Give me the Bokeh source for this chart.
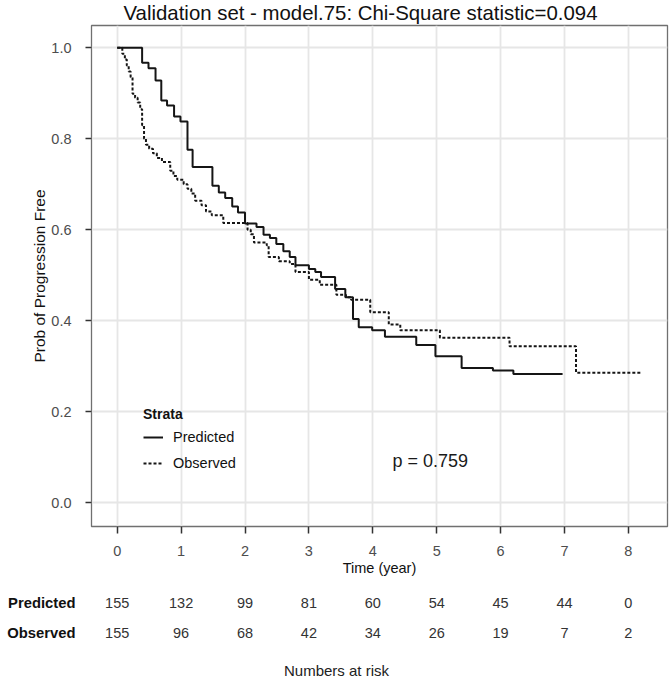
from bokeh.plotting import figure
from bokeh.layouts import column
from bokeh.models import (ColumnDataSource, Label, Legend, LegendItem,
                          FixedTicker, PrintfTickFormatter, Range1d)
from bokeh.core.properties import value
from bokeh.embed import file_html
from bokeh.resources import INLINE

FONT = "Liberation Sans"

# ---------------- data ----------------
title_text = "Validation set - model.75: Chi-Square statistic=0.094"
x_label = "Time (year)"
y_label = "Prob of Progression Free"
p_text = "p = 0.759"

pred_time = [0, 0.39, 0.49, 0.60, 0.69, 0.78, 0.89, 0.99, 1.10, 1.18, 1.49, 1.59, 1.69,
             1.80, 1.89, 2.00, 2.18, 2.29, 2.39, 2.49, 2.60, 2.70, 2.79, 3.00, 3.10,
             3.19, 3.41, 3.57, 3.69, 3.78, 3.99, 4.19, 4.68, 4.98, 5.39, 5.88, 6.20, 6.97]
pred_surv = [1.0, 0.967, 0.955, 0.928, 0.884, 0.873, 0.849, 0.838, 0.776, 0.738, 0.697,
             0.682, 0.670, 0.651, 0.638, 0.614, 0.606, 0.589, 0.582, 0.569, 0.553, 0.540,
             0.522, 0.514, 0.507, 0.496, 0.470, 0.452, 0.404, 0.386, 0.379, 0.365, 0.347,
             0.322, 0.296, 0.291, 0.283, 0.283]

obs_time = [0, 0.08, 0.12, 0.15, 0.18, 0.21, 0.24, 0.28, 0.32, 0.36, 0.39, 0.42, 0.45,
            0.50, 0.56, 0.62, 0.70, 0.83, 0.88, 0.94, 1.04, 1.10, 1.16, 1.22, 1.32, 1.39,
            1.48, 1.66, 2.04, 2.09, 2.14, 2.34, 2.37, 2.53, 2.70, 2.79, 3.00, 3.17, 3.43,
            3.58, 3.66, 3.96, 4.25, 4.43, 5.05, 6.14, 7.18, 8.20]
obs_surv = [1.0, 0.987, 0.974, 0.961, 0.948, 0.935, 0.899, 0.890, 0.880, 0.865, 0.830,
            0.800, 0.787, 0.778, 0.768, 0.758, 0.749, 0.730, 0.718, 0.710, 0.700, 0.690,
            0.680, 0.664, 0.654, 0.640, 0.632, 0.615, 0.600, 0.590, 0.572, 0.566, 0.540,
            0.531, 0.525, 0.507, 0.490, 0.479, 0.457, 0.452, 0.446, 0.419, 0.392, 0.379,
            0.363, 0.344, 0.286, 0.286]

strata = ["Predicted", "Observed"]
risk_years = [0, 1, 2, 3, 4, 5, 6, 7, 8]
risk_pred = [155, 132, 99, 81, 60, 54, 45, 44, 0]
risk_obs = [155, 96, 68, 42, 34, 26, 19, 7, 2]
risk_title = "Numbers at risk"
y_ticks = [0.0, 0.2, 0.4, 0.6, 0.8, 1.0]

# ---------------- layout constants (pixels) ----------------
W = 672
H_TITLE, H_MAIN, H_TABLE = 24, 556, 104
FRAME_L, FRAME_R = 91, 667
PX_PER_YEAR = 63.9
X0_PX = 116.7          # page x of time 0


def px_to_year(px):
    return (px - X0_PX) / PX_PER_YEAR


def shared_xrange():
    return Range1d(px_to_year(FRAME_L), px_to_year(FRAME_R))


# ---------------- title strip ----------------
pt = figure(width=W, height=H_TITLE, output_backend="svg", toolbar_location=None,
            x_range=shared_xrange(), y_range=Range1d(H_TITLE, 0),
            x_axis_location=None, y_axis_location=None,
            min_border_left=FRAME_L, min_border_right=W - FRAME_R,
            min_border_top=0, min_border_bottom=0)
pt.outline_line_color = None
pt.grid.visible = False
pt.text(x=[px_to_year(360)], y=[12], text=[title_text], text_align="center",
        text_baseline="middle", text_font=value(FONT), text_font_size="20.4px",
        text_color="#111111")

# ---------------- main plot ----------------
p = figure(width=W, height=H_MAIN, output_backend="svg", toolbar_location=None,
           x_range=shared_xrange(), y_range=Range1d(-0.0521, 1.049),
           min_border_left=FRAME_L, min_border_right=W - FRAME_R, min_border_top=1,
           min_border_bottom=54)
p.background_fill_color = "white"
p.border_fill_color = "white"
p.outline_line_color = "#707070"
p.outline_line_width = 1.3

p.xgrid.grid_line_color = "#e6e6e6"
p.ygrid.grid_line_color = "#e6e6e6"
p.xgrid.grid_line_width = 1.8
p.ygrid.grid_line_width = 1.8

r_pred = p.step(pred_time, pred_surv, mode="after", line_color="#151515", line_width=2)
r_obs = p.step(obs_time, obs_surv, mode="after", line_color="#151515", line_width=2,
               line_dash="3 2")

p.xaxis.ticker = FixedTicker(ticks=risk_years)
p.yaxis.ticker = FixedTicker(ticks=y_ticks)
p.yaxis.formatter = PrintfTickFormatter(format="%.1f")
for ax in (p.xaxis[0], p.yaxis[0]):
    ax.axis_line_color = None
    ax.major_tick_line_color = "#333333"
    ax.major_tick_line_width = 1.5
    ax.major_tick_in = 0
    ax.minor_tick_line_color = None
    ax.major_label_text_font = FONT
    ax.major_label_text_font_size = "14.5px"
    ax.major_label_text_color = "#4d4d4d"
    ax.axis_label_text_font = FONT
    ax.axis_label_text_font_style = "normal"
    ax.axis_label_text_color = "#111111"

p.xaxis.axis_label = x_label
p.xaxis.major_tick_out = 7
p.xaxis.major_label_standoff = 12
p.xaxis.axis_label_standoff = 1
p.xaxis.axis_label_text_font_size = "14.5px"

p.yaxis.axis_label = y_label
p.yaxis.major_tick_out = 6
p.yaxis.major_label_standoff = 14
p.yaxis.axis_label_standoff = 0
p.yaxis.axis_label_text_font_size = "15.5px"

legend = Legend(items=[LegendItem(label=strata[0], renderers=[r_pred]),
                       LegendItem(label=strata[1], renderers=[r_obs])],
                location=(52, 53), title="Strata",
                title_text_font=FONT, title_text_font_size="14px",
                title_text_font_style="bold", title_text_color="#111111",
                title_standoff=5,
                label_text_font=FONT, label_text_font_size="14.5px",
                label_text_color="#111111",
                glyph_width=20, glyph_height=20, label_height=20,
                label_standoff=10, spacing=6, padding=0, margin=0,
                border_line_color=None, background_fill_alpha=0)
p.add_layout(legend)

p.add_layout(Label(x=4.898, y=0.0914, text=p_text, text_align="center",
                   text_baseline="middle", text_font=FONT, text_font_size="18px",
                   text_color="#1a1a1a"))

# ---------------- risk table ----------------
Y_TOP = H_TITLE + H_MAIN
ROW_Y = [602, 632]
tb = figure(width=W, height=H_TABLE, output_backend="svg", toolbar_location=None,
            x_range=shared_xrange(), y_range=Range1d(Y_TOP + H_TABLE, Y_TOP),
            x_axis_location=None, y_axis_location="left",
            min_border_left=FRAME_L, min_border_right=W - FRAME_R,
            min_border_top=0, min_border_bottom=0)
tb.outline_line_color = None
tb.grid.visible = False
ya = tb.yaxis[0]
ya.ticker = FixedTicker(ticks=ROW_Y)
ya.major_label_overrides = {ROW_Y[0]: strata[0], ROW_Y[1]: strata[1]}
ya.axis_line_color = None
ya.major_tick_line_color = None
ya.minor_tick_line_color = None
ya.major_tick_in = 0
ya.major_tick_out = 0
ya.major_label_standoff = 16
ya.major_label_text_font = FONT
ya.major_label_text_font_size = "14.8px"
ya.major_label_text_font_style = "bold"
ya.major_label_text_color = "#111111"

risk_src = ColumnDataSource(dict(
    x=risk_years + risk_years,
    y=[ROW_Y[0]] * len(risk_years) + [ROW_Y[1]] * len(risk_years),
    text=[str(v) for v in risk_pred + risk_obs]))
tb.text(x="x", y="y", text="text", source=risk_src, text_align="center",
        text_baseline="middle", text_font=value(FONT), text_font_size="14.5px",
        text_color="#333333")
tb.text(x=[px_to_year(336)], y=[670], text=[risk_title], text_align="center",
        text_baseline="middle", text_font=value(FONT), text_font_size="15px",
        text_color="#222222")

layout = column(pt, p, tb, spacing=0)
open("out.html", "w").write(file_html(layout, INLINE))
